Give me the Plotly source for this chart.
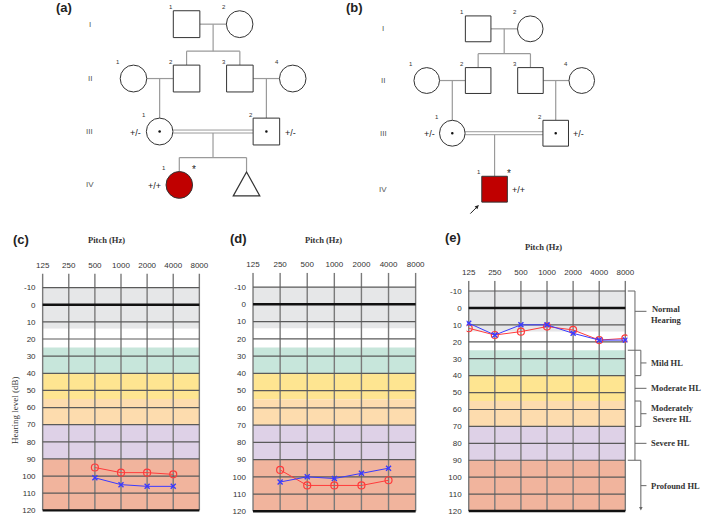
import plotly.graph_objects as go

W, H = 709, 519

# ---------------- data ----------------
FREQ_LABELS = ["125", "250", "500", "1000", "2000", "4000", "8000"]
DB_TICKS = list(range(-10, 121, 10))

C_FREQS = ["500", "1000", "2000", "4000"]
C_RIGHT = [95, 98, 98, 99]
C_LEFT = [101, 105, 106, 106]

D_FREQS = ["250", "500", "1000", "2000", "4000"]
D_RIGHT = [96, 105, 105, 105, 102]
D_LEFT = [103, 100, 101, 98, 95]

E_FREQS = ["125", "250", "500", "1000", "2000", "4000", "8000"]
E_RIGHT = [12, 16, 14, 11, 13, 19, 18]
E_LEFT = [9, 16, 10, 10, 15, 19, 19]

BAND_EDGES = [-10, 14, 25, 40, 55, 70, 90, 120]
BAND_COLORS = ["#e6e7e8", "#ffffff", "#c7e6db", "#fee591", "#fddcae", "#ded1e7", "#f1b49d"]

SEVERITY_LABELS = ["Normal<br>Hearing", "Mild HL", "Moderate HL",
                   "Moderately<br>Severe HL", "Severe HL", "Profound HL"]
SEVERITY_EDGES = [-10, 25, 40, 55, 70, 90, 120]

GENERATIONS = ["I", "II", "III", "IV"]

# pedigree (a)
PED_A_IDS = ["I-1", "I-2", "II-1", "II-2", "II-3", "II-4", "III-1", "III-2", "IV-1", "IV-2"]
PED_A_NUM = ["1", "2", "1", "2", "3", "4", "1", "2", "1", ""]
PED_A_SEX = ["M", "F", "F", "M", "M", "F", "F", "M", "F", "P"]
PED_A_STATUS = ["N", "N", "N", "N", "N", "N", "C", "C", "A", "N"]
PED_A_GENOTYPE = ["", "", "", "", "", "", "+/-", "+/-", "+/+", ""]
PED_A_UNIONS = [("I-1", "I-2", False, ["II-2", "II-3"]),
                ("II-1", "II-2", False, ["III-1"]),
                ("II-3", "II-4", False, ["III-2"]),
                ("III-1", "III-2", True, ["IV-1", "IV-2"])]

# pedigree (b)
PED_B_IDS = ["I-1", "I-2", "II-1", "II-2", "II-3", "II-4", "III-1", "III-2", "IV-1"]
PED_B_NUM = ["1", "2", "1", "2", "3", "4", "1", "2", "1"]
PED_B_SEX = ["M", "F", "F", "M", "M", "F", "F", "M", "M"]
PED_B_STATUS = ["N", "N", "N", "N", "N", "N", "C", "C", "A"]
PED_B_GENOTYPE = ["", "", "", "", "", "", "+/-", "+/-", "+/+"]
PED_B_UNIONS = [("I-1", "I-2", False, ["II-2", "II-3"]),
                ("II-1", "II-2", False, ["III-1"]),
                ("II-3", "II-4", False, ["III-2"]),
                ("III-1", "III-2", True, ["IV-1"])]

# ---------------- layout (pixel positions) ----------------
def px(x):
    return x / W


def py(y):
    return 1 - y / H


fig = go.Figure()
shapes = []
annotations = []

SANS = "Liberation Sans, Arial, sans-serif"
SERIF = "Liberation Serif, Times New Roman, serif"
RED = "#ff3b3b"
BLUE = "#3a3aff"


def line(x0, y0, x1, y1, color, width):
    shapes.append(dict(type="line", xref="paper", yref="paper",
                       x0=px(x0), y0=py(y0), x1=px(x1), y1=py(y1),
                       line=dict(color=color, width=width), layer="above"))


def text(x, y, s, size, color="#222", family=SANS, xanchor="center", yanchor="middle", angle=0, bold=False):
    annotations.append(dict(xref="paper", yref="paper", x=px(x), y=py(y), text=s,
                            showarrow=False, xanchor=xanchor, yanchor=yanchor, textangle=angle,
                            font=dict(size=size, color=color, family=family,
                                      weight="bold" if bold else "normal")))


# ---------------- audiograms ----------------
PANELS = [
    dict(ax=1, cl=38.3, cr=197.7, top=275.0, m10=289.3, p120=513.3, freqs=C_FREQS, right=C_RIGHT, left=C_LEFT),
    dict(ax=2, cl=252.3, cr=417.7, top=274.3, m10=288.7, p120=514.3, freqs=D_FREQS, right=D_RIGHT, left=D_LEFT),
    dict(ax=3, cl=471.7, cr=631.0, top=282.3, m10=292.7, p120=514.0, freqs=E_FREQS, right=E_RIGHT, left=E_LEFT),
]

for P in PANELS:
    i = P["ax"]
    xa = "x" if i == 1 else f"x{i}"
    ya = "y" if i == 1 else f"y{i}"
    step = (P["cr"] - P["cl"]) / 6
    k = (P["p120"] - P["m10"]) / 130
    xr = [-0.08, 6.08]
    ytop = -10 - (P["m10"] - P["top"]) / k
    ybot = 121.2
    bot_px = P["m10"] + (ybot + 10) * k
    dom_x = [px(P["cl"] + xr[0] * step), px(P["cl"] + xr[1] * step)]
    dom_y = [py(bot_px), py(P["top"])]
    fig.update_layout(**{
        ("xaxis" if i == 1 else f"xaxis{i}"): dict(
            domain=dom_x, range=xr, type="category", categoryarray=FREQ_LABELS,
            categoryorder="array", side="top", showgrid=False, zeroline=False,
            showline=False, ticks="", tickfont=dict(size=8, color="#333", family=SANS),
            anchor=ya, fixedrange=True, ticklabelstandoff=3),
        ("yaxis" if i == 1 else f"yaxis{i}"): dict(
            domain=dom_y, range=[ybot, ytop], tickvals=DB_TICKS,
            ticktext=[str(v) for v in DB_TICKS], showgrid=False, zeroline=False,
            showline=False, ticks="", tickfont=dict(size=8, color="#333", family=SANS),
            anchor=xa, fixedrange=True, ticklabelstandoff=4),
    })
    for j, col in enumerate(BAND_COLORS):
        shapes.append(dict(type="rect", xref=xa, yref=ya, x0=0, x1=6,
                           y0=BAND_EDGES[j], y1=BAND_EDGES[j + 1],
                           fillcolor=col, line=dict(width=0), layer="below"))
    for c in range(7):
        shapes.append(dict(type="line", xref=xa, yref=ya, x0=c, x1=c, y0=ytop, y1=120,
                           line=dict(color="#7a7a7a", width=1.4), layer="between"))
    for v in DB_TICKS:
        heavy = v in (0, 120)
        shapes.append(dict(type="line", xref=xa, yref=ya, x0=0, x1=6, y0=v, y1=v,
                           line=dict(color="#111" if heavy else "#5a5a5a",
                                     width=2.4 if heavy else 1.2), layer="between"))
    fig.add_trace(go.Scatter(x=P["freqs"], y=P["right"], xaxis=xa, yaxis=ya,
                             mode="lines+markers", line=dict(color=RED, width=1),
                             marker=dict(symbol="circle-open", size=7, color=RED,
                                         line=dict(width=1.2, color=RED)),
                             showlegend=False, hoverinfo="skip"))
    fig.add_trace(go.Scatter(x=P["freqs"], y=P["left"], xaxis=xa, yaxis=ya,
                             mode="lines+markers", line=dict(color=BLUE, width=1),
                             marker=dict(symbol="x-thin", size=5, color=BLUE,
                                         line=dict(width=1.4, color=BLUE)),
                             showlegend=False, hoverinfo="skip"))

# severity brackets on panel (e)
E = PANELS[2]
ke = (E["p120"] - E["m10"]) / 130


def pye(db):
    return E["m10"] + (db + 10) * ke


XI, XO, XL, XT = 640.8, 646.8, 633.5, 652.5
BR = "#666"
line(XL, pye(-10), XI, pye(-10), BR, 1)
line(XI, pye(-10), XI, pye(90), BR, 1)
for j in range(1, len(SEVERITY_EDGES) - 1):
    e = SEVERITY_EDGES[j]
    x0 = XL if e in (25, 90) else XI
    line(x0, pye(e), XO, pye(e), BR, 1)
for j, lab in enumerate(SEVERITY_LABELS):
    a, b = SEVERITY_EDGES[j], SEVERITY_EDGES[j + 1]
    outer = j % 2 == 1
    if outer:
        yb = pye(b) - 3 if j == len(SEVERITY_LABELS) - 1 else pye(b)
        line(XO, pye(a), XO, yb, BR, 1)
    mid = 2 if j == 0 else (a + b) / 2
    line(XO if outer else XI, pye(mid), XT, pye(mid), BR, 1)
    ly = pye(mid) + (3 if j == 0 else 0)
    text(655, ly, lab, 8.5, "#333", SERIF, xanchor="left", bold=True)
shapes.append(dict(type="path", xref="paper", yref="paper",
                   path=f"M {px(XO-1.8)} {py(pye(120)-4)} L {px(XO+1.8)} {py(pye(120)-4)} L {px(XO)} {py(pye(120)-0.5)} Z",
                   fillcolor=BR, line=dict(width=0), layer="above"))

# panel labels / titles
text(16, 240.7, "(c)", 13, "#222", SANS, bold=True)
text(237.7, 240.3, "(d)", 13, "#222", SANS, bold=True)
text(456, 239.3, "(e)", 13, "#222", SANS, bold=True)
text(103.3, 241.7, "Pitch (Hz)", 8.5, "#333", SERIF, bold=True)
text(324, 241.7, "Pitch (Hz)", 8.5, "#333", SERIF, bold=True)
text(548.2, 248.3, "Pitch (Hz)", 8.5, "#333", SERIF, bold=True)
text(10, 412.5, "Hearing level (dB)", 9, "#333", SERIF, angle=-90)

# ---------------- pedigrees ----------------
LINE_C = "#9a9a9a"
SYM_C = "#333"
AFF = "#c00000"

PED_A_LAYOUT = dict(
    x={"I-1": 184.7, "I-2": 238.7, "II-1": 130.7, "II-2": 184.7, "II-3": 238.9, "II-4": 292.7,
       "III-1": 157.3, "III-2": 265.9, "IV-1": 177.3, "IV-2": 245.7},
    gen_y=[24.3, 79.0, 132.3, 186.0], half=13.5, gen_x=86, label=("(a)", 60, 7.3),
    geno_side={"III-1": -1, "III-2": 1, "IV-1": -1}, star="IV-1", proband=None)
PED_B_LAYOUT = dict(
    x={"I-1": 481.3, "I-2": 534.3, "II-1": 429.0, "II-2": 481.3, "II-3": 534.5, "II-4": 586.7,
       "III-1": 455.0, "III-2": 560.2, "IV-1": 498.0},
    gen_y=[29.0, 81.0, 134.0, 190.3], half=13.0, gen_x=385, label=("(b)", 356, 7.3),
    geno_side={"III-1": -1, "III-2": 1, "IV-1": 1}, star="IV-1", proband="IV-1")


def draw_pedigree(ids, nums, sexes, status, genos, unions, L):
    h = L["half"]
    gen_of = {iid: GENERATIONS.index(iid.split("-")[0]) for iid in ids}
    X = L["x"]

    def Y(iid):
        return L["gen_y"][gen_of[iid]]

    for g, lab in enumerate(GENERATIONS):
        text(L["gen_x"], L["gen_y"][g], lab, 8, "#555", SANS)
    t, lx, ly = L["label"]
    text(lx, ly, t, 13, "#222", SANS, bold=True)
    for a, b, consang, kids in unions:
        y = Y(a)
        xa_, xb_ = sorted([X[a], X[b]])
        if consang:
            line(xa_ + h, y - 1.5, xb_ - h, y - 1.5, LINE_C, 1)
            line(xa_ + h, y + 1.5, xb_ - h, y + 1.5, LINE_C, 1)
        else:
            line(xa_ + h, y, xb_ - h, y, LINE_C, 1.2)
        mid = (xa_ + xb_) / 2
        ktop = Y(kids[0]) - h
        if len(kids) == 1:
            line(X[kids[0]], y + (1.5 if consang else 0), X[kids[0]], ktop, LINE_C, 1.2)
        else:
            sib = ktop - 14
            line(mid, y + (1.5 if consang else 0), mid, sib, LINE_C, 1.2)
            xs = [X[c] for c in kids]
            line(min(xs), sib, max(xs), sib, LINE_C, 1.2)
            for c in kids:
                line(X[c], sib, X[c], Y(c) - h, LINE_C, 1.2)
    for iid, num, sex, st, geno in zip(ids, nums, sexes, status, genos):
        x, y = X[iid], Y(iid)
        fill = AFF if st == "A" else "white"
        if sex == "M":
            shapes.append(dict(type="rect", xref="paper", yref="paper",
                               x0=px(x - h), x1=px(x + h), y0=py(y + h), y1=py(y - h),
                               fillcolor=fill, line=dict(color=SYM_C, width=1), layer="above"))
        elif sex == "F":
            shapes.append(dict(type="circle", xref="paper", yref="paper",
                               x0=px(x - h), x1=px(x + h), y0=py(y + h), y1=py(y - h),
                               fillcolor=fill, line=dict(color=SYM_C, width=1), layer="above"))
        else:
            shapes.append(dict(type="path", xref="paper", yref="paper",
                               path=f"M {px(x-h)} {py(y+11)} L {px(x)} {py(y-13)} L {px(x+h)} {py(y+11)} Z",
                               fillcolor=fill, line=dict(color=SYM_C, width=1.2), layer="above"))
        if st == "C":
            shapes.append(dict(type="circle", xref="paper", yref="paper",
                               x0=px(x - 1.3), x1=px(x + 1.3), y0=py(y + 1.3), y1=py(y - 1.3),
                               fillcolor="#111", line=dict(width=0), layer="above"))
        if num:
            text(x - 16, y - 16.8, num, 6, "#333", SANS)
        if geno:
            side = L["geno_side"][iid]
            text(x + side * (h + 3), y + 1, geno, 9, "#222", SANS,
                 xanchor="left" if side > 0 else "right")
    s = L["star"]
    text(X[s] + 14.5, Y(s) - 15.5, "*", 10, "#222", SANS)
    if L["proband"]:
        p = L["proband"]
        annotations.append(dict(xref="paper", yref="paper", axref="pixel", ayref="pixel",
                                x=px(X[p] - h - 3), y=py(Y(p) + h + 3), ax=-10, ay=10,
                                text="", showarrow=True, arrowhead=2, arrowsize=0.8,
                                arrowwidth=1, arrowcolor="#222"))


draw_pedigree(PED_A_IDS, PED_A_NUM, PED_A_SEX, PED_A_STATUS, PED_A_GENOTYPE, PED_A_UNIONS, PED_A_LAYOUT)
draw_pedigree(PED_B_IDS, PED_B_NUM, PED_B_SEX, PED_B_STATUS, PED_B_GENOTYPE, PED_B_UNIONS, PED_B_LAYOUT)

fig.update_layout(width=W, height=H, margin=dict(l=0, r=0, t=0, b=0),
                  paper_bgcolor="white", plot_bgcolor="rgba(0,0,0,0)",
                  shapes=shapes, annotations=annotations, showlegend=False)

fig.write_html("out.html", config={"displayModeBar": False},
               post_script="document.body.style.margin='0';document.body.style.overflow='hidden';")
